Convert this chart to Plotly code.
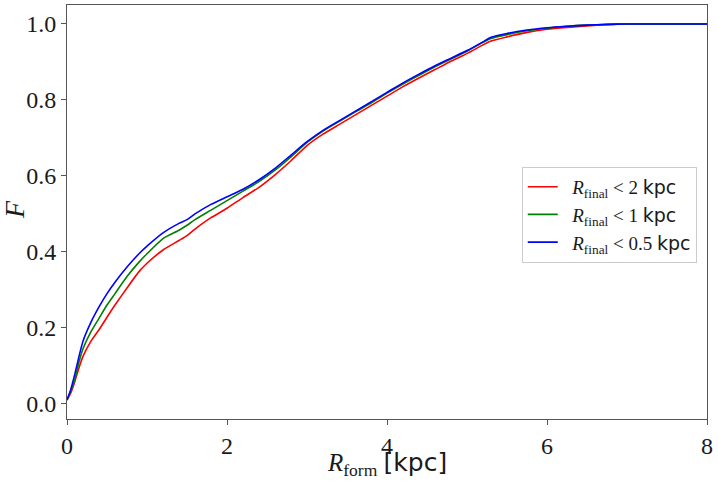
import plotly.graph_objects as go

r_form = [0, 0.05, 0.1, 0.15, 0.2, 0.3, 0.4, 0.5, 0.6, 0.75, 0.9, 1.0, 1.2, 1.4, 1.5, 1.6,
          1.8, 2.0, 2.2, 2.4, 2.6, 2.8, 3.0, 3.2, 3.4, 3.6, 3.8, 4.0, 4.2, 4.4, 4.6, 4.8,
          5.0, 5.2, 5.3, 5.5, 5.75, 6.0, 6.25, 6.5, 6.75, 7.0, 7.5, 8.0]

f_lt2 = [0.01, 0.03, 0.06, 0.095, 0.125, 0.165, 0.195, 0.228, 0.26, 0.305, 0.348, 0.37,
         0.405, 0.43, 0.443, 0.46, 0.49, 0.515, 0.543, 0.57, 0.603, 0.64, 0.68, 0.71,
         0.735, 0.76, 0.785, 0.81, 0.835, 0.858, 0.88, 0.902, 0.922, 0.945, 0.955, 0.966,
         0.978, 0.986, 0.991, 0.995, 0.998, 1.0, 1.0, 1.0]

f_lt1 = [0.01, 0.035, 0.065, 0.11, 0.145, 0.19, 0.225, 0.26, 0.29, 0.335, 0.373, 0.395,
         0.435, 0.457, 0.47, 0.485, 0.51, 0.535, 0.56, 0.585, 0.615, 0.65, 0.688, 0.718,
         0.743, 0.768, 0.792, 0.818, 0.842, 0.865, 0.887, 0.908, 0.928, 0.952, 0.962, 0.972,
         0.982, 0.989, 0.994, 0.997, 0.999, 1.0, 1.0, 1.0]

f_lt05 = [0.01, 0.04, 0.08, 0.125, 0.165, 0.215, 0.255, 0.29, 0.32, 0.36, 0.395, 0.415,
          0.45, 0.475, 0.485, 0.5, 0.525, 0.545, 0.565, 0.59, 0.62, 0.655, 0.69, 0.72,
          0.745, 0.77, 0.795, 0.82, 0.845, 0.868, 0.89, 0.91, 0.93, 0.953, 0.965, 0.975,
          0.984, 0.99, 0.994, 0.997, 0.999, 1.0, 1.0, 1.0]

x_ticks = [0, 2, 4, 6, 8]
y_ticks = [0.0, 0.2, 0.4, 0.6, 0.8, 1.0]
y_tick_labels = ["0.0", "0.2", "0.4", "0.6", "0.8", "1.0"]

SANS = "DejaVu Sans"
SERIF = "Liberation Serif"
TXT = "#1a1a1a"

def leg(v):
    return (f"&nbsp;&nbsp;<i>R</i><sub>final</sub> &lt; {v} "
            f"<span style='font-family:{SANS}'>kpc</span>")

series = [
    (f_lt2, "red", leg("2")),
    (f_lt1, "green", leg("1")),
    (f_lt05, "blue", leg("0.5")),
]

fig = go.Figure()
for ys, col, name in series:
    fig.add_trace(go.Scatter(x=r_form, y=ys, mode="lines", name=name,
                             line=dict(color=col, width=1.6, shape="spline", smoothing=0.6)))

axis_common = dict(showline=True, linecolor="#555555", linewidth=1, mirror=True,
                   ticks="outside", ticklen=5, tickcolor="#555555", showgrid=False,
                   zeroline=False, automargin=False,
                   tickfont=dict(family=SERIF, size=24, color=TXT))

fig.update_layout(
    width=718, height=484,
    margin=dict(l=67, r=11, t=5, b=65),
    plot_bgcolor="white", paper_bgcolor="white",
    xaxis=dict(range=[0, 8], tickvals=x_ticks, **axis_common),
    yaxis=dict(range=[-0.04, 1.05], tickvals=y_ticks, ticktext=y_tick_labels, **axis_common),
    legend=dict(x=0.984, y=0.609, xanchor="right", yanchor="top",
                bgcolor="white", bordercolor="#cccccc", borderwidth=1,
                font=dict(family=SERIF, size=19, color=TXT),
                tracegroupgap=2),
    showlegend=True,
    annotations=[
        dict(text=f"<i>R</i><sub>form</sub> <span style='font-family:{SANS}'>[kpc]</span>",
             xref="paper", yref="paper", x=0.5, y=0, xanchor="center", yanchor="middle",
             yshift=-45, showarrow=False, font=dict(family=SERIF, size=25, color=TXT)),
        dict(text="<i>F</i>", xref="paper", yref="paper", x=0, y=0.505,
             xanchor="center", yanchor="middle", xshift=-52, textangle=-90,
             showarrow=False, font=dict(family=SERIF, size=28, color=TXT)),
    ],
)

fig.write_html("out.html", config={"displayModeBar": False},
               post_script="document.body.style.margin='0';document.body.style.padding='0';")
